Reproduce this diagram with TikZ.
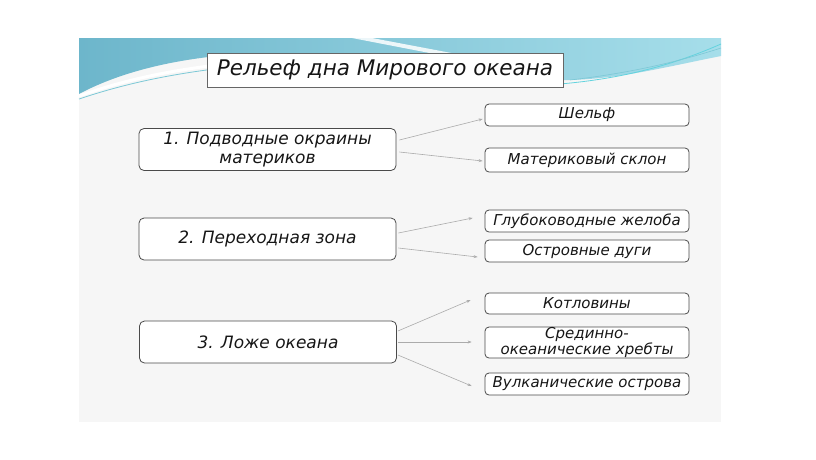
\documentclass[tikz,border=0pt]{standalone}
\usepackage{fontspec}
\setmainfont{DejaVu Sans}
\usetikzlibrary{arrows.meta}
\definecolor{slidebg}{HTML}{F6F6F6}
\definecolor{bandA}{HTML}{6DB6CB}
\definecolor{bandB}{HTML}{A6DEEA}
\definecolor{swoosh}{HTML}{7CC8D6}
\definecolor{boxline}{HTML}{4A4A4A}
\definecolor{arrowc}{HTML}{ABABAB}
\definecolor{txt}{HTML}{161616}
\tikzset{
  leftbox/.style={draw=boxline, fill=white, rounded corners=5pt, line width=0.8pt,
    minimum width=257pt, minimum height=42pt, inner sep=0pt, align=center,
    text=txt, font=\itshape\fontsize{17}{18.5}\selectfont},
  rightbox/.style={draw=boxline, fill=white, rounded corners=4pt, line width=0.8pt,
    minimum width=204pt, minimum height=22pt, inner sep=0pt, align=center,
    text=txt, font=\itshape\fontsize{15}{15}\selectfont},
  titlebox/.style={draw=gray!80!black, fill=white, line width=0.6pt,
    minimum width=356pt, minimum height=34pt, inner sep=0pt,
    text=txt, font=\itshape\fontsize{21.5}{24}\selectfont},
  conn/.style={draw=arrowc, line width=0.6pt, -{Stealth[length=4pt,width=3pt]}}
}
\begin{document}
\begin{tikzpicture}[x=1pt,y=-1pt]
\useasboundingbox (0,0) rectangle (816,459);
\fill[white] (0,0) rectangle (816,459);
% slide
\fill[slidebg] (79,38) rectangle (721,422);
% top wave band
\shade[left color=bandA, right color=bandB]
  (79,38) -- (721,38) -- (721,56)
  .. controls (660,68) and (610,82) .. (545,80)
  .. controls (480,76) and (440,56) .. (380,53)
  -- (260,53) .. controls (180,56) and (120,72) .. (79,94) -- cycle;
\fill[white, opacity=0.85] (352,38) -- (372,38) -- (462,55) -- (440,55) -- cycle;
\draw[white, line width=3pt] (79,96) .. controls (130,78) and (190,64) .. (300,58);
\draw[swoosh, line width=0.8pt] (79,99) .. controls (130,82) and (190,68) .. (300,61);
\draw[swoosh!80!cyan, line width=0.8pt] (560,84) .. controls (630,78) and (680,62) .. (721,44);
\draw[swoosh, line width=0.6pt] (570,80) .. controls (640,72) and (690,58) .. (721,48);
% title
\node[titlebox] (title) at (385,70) {Рельеф дна Мирового океана};
% left boxes
\node[leftbox] (b1) at (267.5,149.5) {1. Подводные окраины\\материков};
\node[leftbox] (b2) at (267.5,239) {2. Переходная зона};
\node[leftbox] (b3) at (268,342) {3. Ложе океана};
% right boxes
\node[rightbox] (r1) at (587,115) {Шельф};
\node[rightbox, minimum height=24pt] (r2) at (587,160) {Материковый склон};
\node[rightbox] (r3) at (587,221) {Глубоководные желоба};
\node[rightbox] (r4) at (587,251) {Островные дуги};
\node[rightbox, minimum height=21pt] (r5) at (587,303.5) {Котловины};
\node[rightbox, minimum height=31pt, font=\itshape\fontsize{15}{13}\selectfont] (r6) at (587,342.5) {Срединно-\\океанические хребты};
\node[rightbox] (r7) at (587,384) {Вулканические острова};
% connectors
\draw[conn] ([shift={(3,-9.5)}]b1.east) -- ([shift={(-2,4)}]r1.west);
\draw[conn] ([shift={(3,2.5)}]b1.east) -- ([shift={(-2,1)}]r2.west);
\draw[conn] ([shift={(2,-6)}]b2.east) -- ([shift={(-12,-3)}]r3.west);
\draw[conn] ([shift={(2,9)}]b2.east) -- ([shift={(-7,6)}]r4.west);
\draw[conn] ([shift={(1,-11)}]b3.east) -- ([shift={(-14,-3.5)}]r5.west);
\draw[conn] ([shift={(1,0)}]b3.east) -- ([shift={(-13,-0.5)}]r6.west);
\draw[conn] ([shift={(1,13)}]b3.east) -- ([shift={(-13,2)}]r7.west);
\end{tikzpicture}
\end{document}
